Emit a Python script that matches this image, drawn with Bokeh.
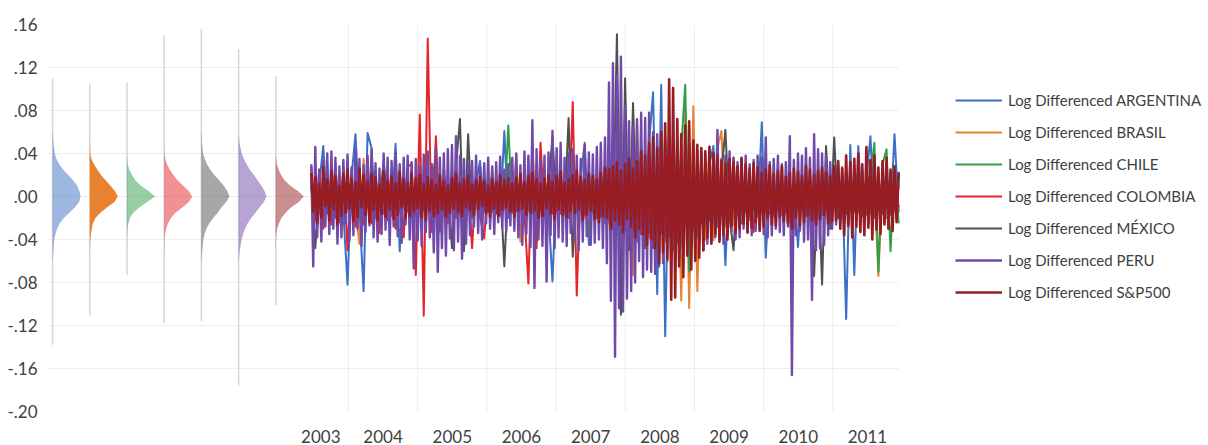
import numpy as np
import pandas as pd
from bokeh.plotting import figure
from bokeh.models import Range1d, FixedTicker, Legend, LegendItem
from bokeh.embed import file_html
from bokeh.resources import INLINE

FONT = "Lato"

countries = ["ARGENTINA", "BRASIL", "CHILE", "COLOMBIA", "MÉXICO", "PERU", "S&P500"]
line_colors = ["#3C70C4", "#E8822E", "#2F9E47", "#E3242A", "#505050", "#7049A9", "#971D23"]
line_widths = [2, 2, 2, 2, 2, 2.4, 2.6]
violin_alpha = [0.5, 1.0, 0.5, 0.5, 0.5, 0.5, 0.5]

# sampling dates of the plotted log returns
dates_coarse = pd.date_range("2003-06-19", "2011-12-14", periods=147)  # ~3-weekly
dates_fine = pd.date_range("2003-06-19", "2011-12-14", periods=293)    # ~10-daily

# log-differenced values, in thousandths (x1000)
argentina = [
    15, -18, 12, 47, -16, 14, -20, 17, -15, -82,
    18, 58, -14, -88, 59, 45, -20, 18, -16, 14,
    -18, 49, -51, 16, -14, 12, -17, 15, -13, 16,
    -14, 12, -16, 15, -13, 17, -15, 14, -12, 16,
    -15, 13, 33, -14, 16, -12, 15, -18, 61, -20,
    16, -14, 18, -15, 12, -16, 14, -13, 17, -15,
    -79, 18, -16, 14, -20, 17, -15, 18, 50, -45,
    18, -20, 22, -25, 28, -30, 32, -35, 30, -38,
    40, -42, 45, -48, 50, 97, -91, 104, -130, 52,
    -50, 45, -48, 42, -45, 40, -38, 35, -32, 30,
    47, -28, 26, -64, 24, -22, 20, -25, 18, -20,
    17, -19, 69, -57, 16, -18, 15, -17, 14, -16,
    13, -47, 15, -14, 18, -16, 14, -17, 15, -18,
    16, -20, 18, -114, 48, -73, 47, -18, 16, 56,
    -20, 18, -16, 15, -17, 58, -15]
brasil = [
    12, -15, 10, -8, 14, -10, 16, -12, 9, -14,
    11, -13, -44, 35, -10, 12, -14, 9, -11, 13,
    -10, 12, -14, 8, -11, 10, -13, 12, -9, 11,
    -12, 10, -8, 13, -11, 9, -12, 10, -14, 11,
    -9, 12, -10, 8, -13, 26, -11, 9, -12, 10,
    -14, 38, -42, 12, -10, 14, -12, 9, -13, 11,
    -10, 12, -14, 11, -9, 13, -12, 10, -14, 12,
    -15, 18, -20, 22, -25, 28, -30, 26, -32, 30,
    -73, 70, -35, 32, -38, 35, -40, 38, -42, 40,
    -45, 50, -97, 82, -104, 84, -88, 45, -40, 47,
    -41, 45, 61, -28, 25, -26, 22, -20, 18, -22,
    16, -18, 15, -14, 17, -13, 12, -15, 14, -11,
    13, -12, 15, -14, 11, -13, 12, -10, 14, -12,
    11, -13, 10, -12, 14, -11, 12, -15, 13, -16,
    15, -74, 18, -20, 16, -14, 12]
chile = [
    10, -12, 9, -11, 12, -10, 8, -12, 11, -9,
    10, -8, 12, -10, 9, -11, 13, -9, 10, -12,
    9, -11, 10, -8, 12, -10, 11, -9, 13, -10,
    11, 39, -33, 12, -10, 9, -11, 10, -8, 11,
    -9, 10, -12, 9, -10, 11, -9, 8, -10, 66,
    -15, 10, -12, 11, -9, 10, -11, 9, -10, 8,
    -11, 10, -9, 12, -10, 9, -11, 10, -8, -33,
    13, -15, 17, -19, 20, -23, 25, -21, 23, -25,
    27, -30, 25, -33, 30, -35, 33, -31, 35, -37,
    40, -43, 45, 104, -70, 35, -33, 30, -27, 25,
    -23, 20, -17, 19, -15, 17, -13, 15, -14, 12,
    -13, 11, -12, 10, -11, 13, -10, 12, -11, 10,
    -12, 11, -10, 13, -11, 12, -10, 11, -13, 10,
    -12, 14, -11, 15, -13, 17, -15, 19, -17, 20,
    50, -70, 30, 44, -51, 28, -25]
colombia = [
    28, -22, 25, -30, 22, -26, 30, -24, 26, -50,
    24, -28, 22, -26, 30, -25, 24, -34, 28, -22,
    26, -30, 24, -38, 28, 30, -73, 76, -111, 147,
    -33, 56, -30, 28, -25, 22, -20, 18, -22, 15,
    -48, 20, -18, -39, 16, -14, 12, -16, 10, -13,
    14, -12, 16, -15, -81, 50, -48, 50, -18, 14,
    -16, 12, -15, 18, -20, 88, -92, 20, -18, 15,
    -14, 16, -18, 20, -22, 25, -28, 22, -30, 26,
    -32, 30, -35, 28, -34, 32, -30, 35, -38, 30,
    -32, 28, -26, 25, -28, 22, -20, 24, -22, 18,
    -16, 20, -18, 15, -14, 36, -17, 14, -12, 16,
    -33, 15, -14, 12, -16, 14, -13, 11, -15, 12,
    -10, 14, -12, 11, -13, 10, -12, 14, -11, 10,
    -12, 13, -10, 11, -14, 12, -10, 9, -11, 12,
    -10, 8, -11, 10, -9, 12, -10]
mexico = [
    10, -48, 12, -15, 8, -10, 14, -12, 9, -11,
    13, -10, 8, -14, 11, -9, 12, -8, 33, -10,
    9, -12, 11, -8, 10, -13, 12, -9, 8, -11,
    12, -10, 9, -14, 11, -48, 28, 72, -51, 58,
    -20, 15, -12, 18, -14, 10, -16, 12, -65, 14,
    -12, 15, -10, 14, -13, 11, -15, 12, -14, 10,
    56, -14, 12, -15, 73, -56, 14, -12, 16, -10,
    13, -15, 18, -20, 25, -30, 151, -110, 110, -50,
    87, -35, 30, -48, 32, -48, 30, -34, 35, -32,
    30, -28, 32, -26, 25, -30, 23, -25, 20, -22,
    18, -20, 22, 62, -20, -50, 18, -16, 15, -18,
    14, -16, 12, -15, 11, -14, 13, -10, 12, -11,
    14, -12, 16, -18, 20, -74, 25, -82, 47, -30,
    55, -20, 18, -16, 15, -14, 12, -15, 11, -10,
    12, -9, 10, -8, 11, -10, 9]
peru = [
    30, -65, 46, -38, 25, -42, 33, -28, 40, -35,
    42, -30, 36, -44, 28, -38, 34, -25, 39, -41,
    27, -36, 43, -30, 35, -46, 29, -33, 38, -27,
    44, -38, 31, -42, 26, -35, 40, -31, 36, -45,
    33, -28, 41, -37, 30, -43, 36, -26, 38, -40,
    32, -67, 35, -41, 28, -46, 39, -33, 42, -38,
    30, -52, 45, -70, 36, -48, 40, -55, 44, -39,
    48, -50, 56, -42, 38, -58, 35, -44, 30, -36,
    33, -28, 38, -34, 27, -40, 31, -25, 36, -30,
    28, -35, 32, -24, 37, -29, 25, -33, 30, -27,
    36, -32, 40, -38, 29, -45, 42, -35, 38, -47,
    71, -85, 44, -40, 35, -46, 38, -79, 41, -36,
    61, -48, 45, -38, 50, -42, 36, -46, 40, -34,
    44, -40, 38, -50, 35, -42, 48, -37, 41, -45,
    39, -43, 46, -40, 50, -48, 55, -62, 106, -97,
    124, -149, 113, -104, 130, -107, 84, -95, 70, -88,
    65, -80, 72, -60, 78, -75, 73, -68, 78, -70,
    60, -72, 58, -65, 55, -62, 52, -60, 48, -58,
    55, -50, 52, -58, 48, -55, 45, -52, 50, -46,
    44, -48, 42, -45, 40, -50, 38, -44, 36, -42,
    40, -38, 62, -40, 35, -44, 38, -36, 42, -33,
    36, -40, 32, -38, 35, -30, 38, -34, 30, -36,
    34, -32, 38, -30, 36, -35, 55, -38, 32, -36,
    35, -30, 38, -33, 30, -36, 32, -28, 56, -166,
    34, -36, 40, -32, 38, -42, 45, -40, 36, -96,
    58, -50, 44, -48, 40, -45, 38, -36, 32, -30,
    28, -26, 30, -24, 27, -25, 24, -28, 22, -26,
    25, -22, 27, -20, 24, -23, 21, -25, 20, -22,
    23, -19, 22, -21, 20, -24, 19, -20, 22, -18,
    21, -20, 23]
sp500 = [
    22, -14, 18, -25, 12, -20, 27, -9, 16, -22,
    24, -12, 19, -26, 10, -18, 21, -15, 25, -11,
    17, -23, 13, -19, 26, -10, 20, -17, 14, -24,
    21, -13, 18, -22, 11, -16, 24, -19, 15, -12,
    19, -21, 12, -17, 23, -10, 16, -20, 13, -18,
    22, -14, 17, -11, 20, -19, 12, -22, 18, -13,
    15, -18, 11, -16, 20, -12, 14, -19, 10, -15,
    17, -11, 21, -14, 12, -18, 16, -10, 19, -13,
    11, -17, 15, -12, 18, -9, 14, -16, 10, -19,
    16, -11, 13, -18, 20, -12, 15, -10, 17, -14,
    12, -19, 18, -13, 21, -11, 14, -17, 19, -15,
    22, -13, 16, -20, 12, -18, 17, -11, 20, -16,
    14, -21, 19, -12, 23, -17, 13, -19, 16, -14,
    20, -15, 24, -12, 18, -22, 15, -17, 21, -13,
    19, -21, 16, -24, 22, -18, 27, -20, 25, -30,
    28, -22, 32, -26, 24, -33, 30, -21, 35, -28,
    26, -38, 33, -30, 42, -35, 38, -45, 50, -40,
    55, -48, 45, -62, 60, -52, 68, -58, 109, -96,
    101, -94, 72, -65, 58, -75, 66, -55, 70, -68,
    52, -60, 48, -57, 45, -50, 42, -38, 46, -44,
    40, -35, 38, -42, 33, -36, 30, -40, 35, -28,
    32, -34, 28, -30, 36, -25, 30, -33, 26, -29,
    31, -24, 27, -32, 22, -28, 25, -20, 29, -26,
    21, -27, 24, -19, 28, -23, 18, -25, 22, -30,
    26, -20, 23, -27, 19, -24, 28, -18, 25, -22,
    20, -26, 24, -21, 27, -17, 22, -25, 19, -23,
    28, -22, 33, -30, 26, -36, 38, -27, 32, -38,
    35, -28, 40, -33, 30, -36, 46, -29, 34, -40,
    38, -31, 27, -35, 33, -26, 36, -30, 25, -32,
    28, -24, 22]

series = [argentina, brasil, chile, colombia, mexico, peru, sp500]
series_dates = [dates_coarse] * 5 + [dates_fine, dates_fine]

# density profiles (relative width) at these return levels
density_levels = [-0.06, -0.05, -0.04, -0.035, -0.03, -0.025, -0.02, -0.015, -0.01, -0.005, 0.0,
                  0.005, 0.01, 0.015, 0.02, 0.025, 0.03, 0.035, 0.04, 0.05, 0.06]
density_argentina = [0.01, 0.03, 0.06, 0.10, 0.16, 0.25, 0.40, 0.60, 0.80, 0.95, 1.0,
                     0.96, 0.88, 0.74, 0.56, 0.38, 0.24, 0.14, 0.08, 0.03, 0.01]
density_brasil = [0.0, 0.005, 0.02, 0.04, 0.07, 0.11, 0.20, 0.38, 0.62, 0.88, 1.0,
                  0.90, 0.74, 0.57, 0.40, 0.27, 0.15, 0.06, 0.02, 0.005, 0.0]
density_chile = [0.0, 0.0, 0.005, 0.01, 0.02, 0.05, 0.10, 0.22, 0.45, 0.72, 1.0,
                 0.78, 0.50, 0.30, 0.18, 0.08, 0.03, 0.01, 0.0, 0.0, 0.0]
density_colombia = [0.0, 0.005, 0.01, 0.03, 0.07, 0.13, 0.24, 0.40, 0.66, 0.88, 1.0,
                    0.88, 0.68, 0.48, 0.33, 0.20, 0.10, 0.04, 0.01, 0.0, 0.0]
density_mexico = [0.01, 0.03, 0.07, 0.11, 0.18, 0.28, 0.42, 0.58, 0.72, 0.88, 1.0,
                  0.93, 0.80, 0.64, 0.46, 0.32, 0.20, 0.12, 0.06, 0.02, 0.01]
density_peru = [0.01, 0.04, 0.11, 0.16, 0.23, 0.32, 0.45, 0.60, 0.75, 0.90, 1.0,
                0.93, 0.82, 0.68, 0.55, 0.40, 0.29, 0.19, 0.11, 0.03, 0.0]
density_sp500 = [0.0, 0.0, 0.01, 0.02, 0.05, 0.11, 0.20, 0.35, 0.55, 0.82, 1.0,
                 0.80, 0.52, 0.32, 0.19, 0.10, 0.04, 0.015, 0.0, 0.0, 0.0]
densities = [density_argentina, density_brasil, density_chile, density_colombia,
             density_mexico, density_peru, density_sp500]

# full range (min / max) of each series, as the thin grey lines of the densities
range_low = [-0.138, -0.111, -0.073, -0.118, -0.116, -0.176, -0.101]
range_high = [0.110, 0.105, 0.106, 0.150, 0.156, 0.137, 0.112]

year_ticks = [2003.6, 2004.5, 2005.5, 2006.5, 2007.5, 2008.5, 2009.5, 2010.5, 2011.5]
year_labels = ["2003", "2004", "2005", "2006", "2007", "2008", "2009", "2010", "2011"]
year_bounds = [2004, 2005, 2006, 2007, 2008, 2009, 2010, 2011]
y_ticks = [-0.20, -0.16, -0.12, -0.08, -0.04, 0.0, 0.04, 0.08, 0.12, 0.16]
y_labels = ["-.20", "-.16", "-.12", "-.08", "-.04", ".00", ".04", ".08", ".12", ".16"]
y_grid = [-0.16, -0.12, -0.08, -0.04, 0.0, 0.04, 0.08, 0.12]

# chart area in years (left of the densities to the end of the series)
X_START, X_END = 1999.665, 2011.948
Y_START, Y_END = -0.20, 0.16


def frac_year(d):
    return (d.year + (d.dayofyear - 1) / np.where(d.is_leap_year, 366, 365)).to_numpy()


PX_PER_YEAR = 69.2
FRAME_W = 1208 - 48
p = figure(width=1208, height=445, output_backend="svg", toolbar_location=None,
           x_range=Range1d(X_START, X_START + FRAME_W / PX_PER_YEAR),
           y_range=Range1d(Y_START, Y_END),
           min_border_left=48, min_border_right=0, min_border_top=24, min_border_bottom=31)
p.extra_x_ranges = {"violin": Range1d(-0.11, -0.11 + FRAME_W / 37.2)}
p.outline_line_color = None
p.background_fill_color = "white"
p.border_fill_color = "white"

for ax in (p.xaxis, p.yaxis):
    ax.axis_line_color = None
    ax.major_tick_line_color = None
    ax.minor_tick_line_color = None
    ax.major_label_text_font = FONT
    ax.major_label_text_font_size = "17px"
    ax.major_label_text_color = "#404040"

p.xaxis.ticker = FixedTicker(ticks=year_ticks)
p.xaxis.major_label_overrides = dict(zip(year_ticks, year_labels))
p.xaxis.major_label_standoff = 12
p.yaxis.ticker = FixedTicker(ticks=y_ticks)
p.yaxis.major_label_overrides = dict(zip(y_ticks, y_labels))
p.yaxis.major_label_standoff = 5

# grid lines limited to the chart area
p.xgrid.visible = False
p.ygrid.visible = False
GRID = "#EDEDED"
p.segment(x0=[X_START] * len(y_grid), y0=y_grid, x1=[X_END] * len(y_grid), y1=y_grid,
          line_color=GRID, line_width=1)
p.segment(x0=year_bounds, y0=[Y_START] * len(year_bounds), x1=year_bounds,
          y1=[Y_END] * len(year_bounds), line_color=GRID, line_width=1)

# densities
VW = 0.753
for k in range(len(countries)):
    p.segment(x0=[k], y0=[range_low[k]], x1=[k], y1=[range_high[k]],
              x_range_name="violin", line_color="#D6D6D6", line_width=1.5)
    w = np.array(densities[k])
    xs = [k] + list(k + VW * w) + [k]
    ys = [density_levels[0]] + list(density_levels) + [density_levels[-1]]
    p.patch(xs, ys, x_range_name="violin", fill_color=line_colors[k],
            fill_alpha=violin_alpha[k], line_color=None)

# time series
items = []
for k, vals in enumerate(series):
    r = p.line(frac_year(series_dates[k]), np.array(vals) / 1000.0, line_color=line_colors[k],
               line_width=line_widths[k], line_join="round")
    items.append(LegendItem(label="Log Differenced " + countries[k], renderers=[r]))

legend = Legend(items=items, location=(907, 109), glyph_width=47, glyph_height=20,
                label_height=20, spacing=12, padding=0, margin=0, label_standoff=6,
                border_line_color=None, background_fill_alpha=0,
                label_text_font=FONT, label_text_font_size="15px",
                label_text_color="#404040")
p.add_layout(legend)

open("out.html", "w").write(file_html(p, INLINE))
